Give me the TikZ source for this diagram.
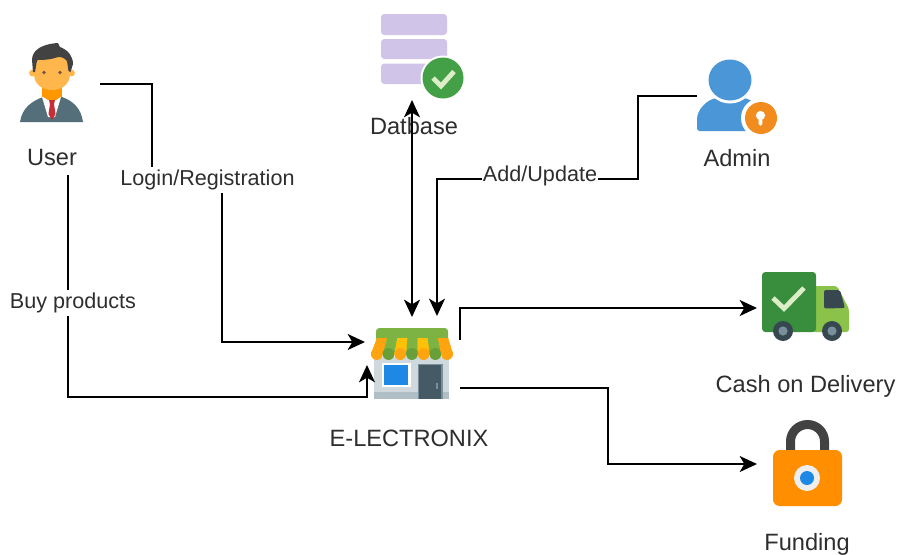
\documentclass[tikz,border=0pt]{standalone}
\usepackage{fontspec}
\setmainfont{Liberation Sans}
\usetikzlibrary{arrows.meta,calc}
\definecolor{txt}{HTML}{2E2E2E}
\definecolor{skin}{HTML}{FFB74D}
\definecolor{skindk}{HTML}{FF9800}
\definecolor{hair}{HTML}{424242}
\definecolor{suit}{HTML}{546E7A}
\definecolor{tie}{HTML}{C62F35}
\definecolor{dbbar}{HTML}{D1C4E9}
\definecolor{okgreen}{HTML}{43A047}
\definecolor{okcheck}{HTML}{DCEDC8}
\definecolor{adminblue}{HTML}{4A96D6}
\definecolor{keyorange}{HTML}{F28C1E}
\definecolor{roof}{HTML}{7CB342}
\definecolor{roofdk}{HTML}{689F38}
\definecolor{awn}{HTML}{FFC107}
\definecolor{awnend}{HTML}{FFA40F}
\definecolor{wall}{HTML}{CFD8DC}
\definecolor{wallband}{HTML}{B0BEC5}
\definecolor{door}{HTML}{455A64}
\definecolor{winblue}{HTML}{1E88E5}
\definecolor{truckbox}{HTML}{388E3C}
\definecolor{truckcab}{HTML}{8BC34A}
\definecolor{truckwin}{HTML}{37474F}
\definecolor{wheelin}{HTML}{78909C}
\definecolor{lockbody}{HTML}{FF8F00}
\definecolor{lockring}{HTML}{EEEEEE}
\definecolor{eyedot}{HTML}{795548}
\tikzset{
  x=0.75pt,y=-0.75pt,
  lbl/.style={font=\fontsize{17.7}{21}\selectfont,text=txt,inner sep=0pt,anchor=center},
  edgelbl/.style={font=\fontsize{16.2}{19}\selectfont,text=txt,anchor=center,fill=white,inner xsep=1pt,inner ysep=2pt},
  conn/.style={draw=black,line width=1.35pt},
  tip/.style={-{Stealth[length=13pt,width=12pt,inset=3.5pt]}},
  tips/.style={{Stealth[length=13pt,width=12pt,inset=3.5pt]}-{Stealth[length=13pt,width=12pt,inset=3.5pt]}}
}
\begin{document}
\begin{tikzpicture}
\useasboundingbox (0,0) rectangle (898,554);
\fill[white] (0,0) rectangle (898,554);

% ---------- User icon
\fill[suit] (20,122) .. controls (22,108) and (32,101) .. (43,97) -- (62,97) .. controls (73,101) and (81,108) .. (83,122) -- cycle;
\fill[white] (42,97) -- (61,97) -- (55,117) -- (48,117) -- cycle;
\fill[skindk] (42,86) rectangle (62,97);
\fill[skindk] (42,96) -- (62,96) -- (56,100) -- (48,100) -- cycle;
\fill[tie] (49,100) -- (55,100) -- (54,104) -- (55.5,114) -- (52,120) -- (48.5,114) -- (50,104) -- cycle;
\fill[skin] (32.5,73) circle (3.4);
\fill[skin] (71.5,73) circle (3.4);
\fill[skin] (35,54) -- (69,54) -- (70,74) .. controls (70,84) and (62,90) .. (52,90) .. controls (42,90) and (34,84) .. (34,74) -- cycle;
\fill[hair] (33,72) -- (32,60) .. controls (32,50) and (42,44) .. (58,43) -- (60,47) .. controls (68,50) and (73,56) .. (73,64) -- (70.5,72) -- (68.5,71) -- (67,61) .. controls (64,57) and (60,57) .. (58,57) .. controls (50,60) and (42,60) .. (37.5,60) .. controls (36,63) and (36,68) .. (35,72) -- cycle;
\fill[eyedot] (44,72.5) circle (1.8);
\fill[eyedot] (60,72.5) circle (1.8);
\node[lbl] (userlbl) at (52,157.5) {User};

% ---------- Database icon
\fill[dbbar,rounded corners=2.5pt] (381,14) rectangle (447,35);
\fill[dbbar,rounded corners=2.5pt] (381,39) rectangle (447,59);
\fill[dbbar,rounded corners=2.5pt] (381,63.5) rectangle (447,84);
\fill[white] (443,78) circle (22.5);
\fill[okgreen] (443,78) circle (20.5);
\draw[okcheck,line width=3.6pt] (433,78) -- (441,86) -- (454,71.5);
\node[lbl] (dblbl) at (414,126) {Datbase};

% ---------- Admin icon
\fill[adminblue,rounded corners=2pt] (697,131) -- (697,122) .. controls (697,110) and (706,101) .. (716,98) -- (745,98) .. controls (755,102) and (762,108) .. (763,122) -- (763,131) -- cycle;
\fill[white] (730,80) ellipse (24 and 23.5);
\fill[adminblue] (730,80) ellipse (21.5 and 20.5);
\fill[white] (761,118) circle (20);
\fill[keyorange] (761,118) circle (16);
\fill[white] (760.5,115.5) circle (4.6);
\fill[white,rounded corners=1pt] (758.7,116) rectangle (762.3,125.5);
\node[lbl] (adminlbl) at (737,158) {Admin};

% ---------- Store icon
\fill[wall] (374,357) rectangle (449,399);
\fill[wallband] (374,392) rectangle (449,399);
\fill[white] (382,363) rectangle (410.5,387);
\fill[winblue] (384,365) rectangle (408,384.5);
\fill[wheelin] (417.5,364) rectangle (442.5,399);
\fill[door] (419,364.5) rectangle (441,399);
\fill[wheelin] (436,383) rectangle (437.5,389);
\fill[roof,rounded corners=2.5pt] (376,328) rectangle (448,345);
\fill[awn] (377,338) -- (448,338) -- (453,354) -- (371,354) -- cycle;
\foreach \n/\col/\scal in {0/awnend/awnend,1/roof/roofdk,2/awn/awnend,3/roof/roofdk,4/awn/awnend,5/roof/roofdk,6/awnend/awnend}{
  \fill[\col] ({377+10.15*\n},338) -- ({377+10.15*(\n+1)},338) -- ({371+11.7*(\n+1)},354) -- ({371+11.7*\n},354) -- cycle;
  \fill[\scal] ({376.85+11.7*\n},354) circle (5.95);
}
\node[lbl] (storelbl) at (409,438) {E-LECTRONIX};

% ---------- Truck icon
\fill[truckcab,rounded corners=2pt] (812,286) -- (837,286) -- (849,309) -- (849,332) -- (812,332) -- cycle;
\fill[truckbox,rounded corners=2.5pt] (762,272) rectangle (816,332);
\fill[truckwin,rounded corners=1.5pt] (824,290) -- (840,290) -- (845,308) -- (824,308.5) -- cycle;
\fill[truckwin] (783,331) circle (10);
\fill[wheelin] (783,331) circle (4.6);
\fill[truckwin] (832,331) circle (10);
\fill[wheelin] (832,331) circle (4.6);
\draw[okcheck,line width=3.6pt] (773,298) -- (784,308.5) -- (804,288);
\node[lbl] (codlbl) at (805.5,386.5) {Cash on Delivery};

% ---------- Lock icon
\draw[hair,line width=6.75pt] (790.5,452) -- (790.5,441.5) arc[start angle=180,end angle=360,x radius=17,y radius=17] -- (824.5,452);
\fill[lockbody,rounded corners=5pt] (773,450) rectangle (842,506);
\fill[lockring] (807,478) circle (13);
\fill[winblue] (807,478) circle (7);
\node[lbl] (fundlbl) at (807,544) {Funding};

% ---------- Connector ends
\coordinate (userOut) at (100,84);
\coordinate (loginA) at (152,84);
\coordinate (loginB) at (152,178);
\coordinate (loginC) at (222,178);
\coordinate (loginD) at (222,342);
\coordinate (storeW) at (365,342);
\coordinate (userDown) at (68,175);
\coordinate (buyA) at (68,397);
\coordinate (buyB) at (367,397);
\coordinate (storeSW) at (367,365);
\coordinate (dbIn) at (412,100);
\coordinate (storeN1) at (412,317);
\coordinate (adminOut) at (697,96);
\coordinate (addA) at (638,96);
\coordinate (addB) at (638,179);
\coordinate (addC) at (437,179);
\coordinate (storeN2) at (437,316);
\coordinate (storeE1) at (460,340);
\coordinate (shipA) at (460,308);
\coordinate (truckIn) at (757,308);
\coordinate (storeE2) at (460,388);
\coordinate (payA) at (608,388);
\coordinate (payB) at (608,464);
\coordinate (lockIn) at (757,464);

% ---------- Connectors
\draw[conn,tip] (userOut) -- (loginA) -- (loginB) -- (loginC) -- (loginD) -- (storeW);
\draw[conn,tip] (userDown) -- (buyA) -- (buyB) -- (storeSW);
\draw[conn,tips] (dbIn) -- (storeN1);
\draw[conn,tip] (adminOut) -- (addA) -- (addB) -- (addC) -- (storeN2);
\draw[conn,tip] (storeE1) -- (shipA) -- (truckIn);
\draw[conn,tip] (storeE2) -- (payA) -- (payB) -- (lockIn);

% ---------- Connector labels
\node[edgelbl] (loginlbl) at (207.5,180) {Login/Registration};
\node[edgelbl] (buylbl) at (73,303) {Buy products};
\node[edgelbl] (addlbl) at (540,176) {Add/Update};
\end{tikzpicture}
\end{document}
